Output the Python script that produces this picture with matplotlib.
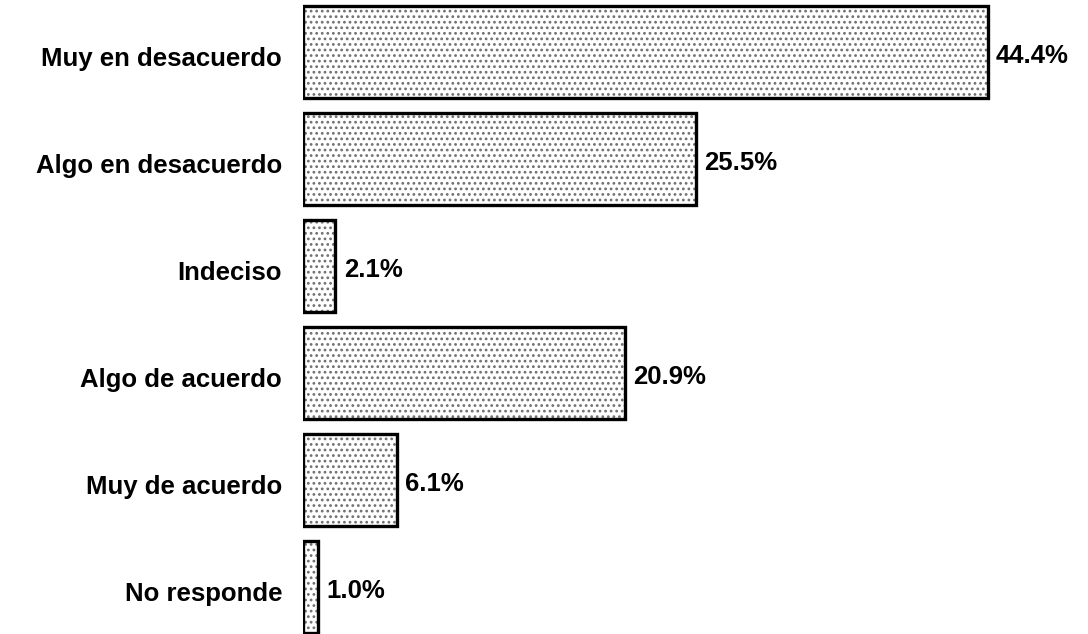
import matplotlib.pyplot as plt
from matplotlib.transforms import ScaledTranslation

categories = ["Muy en desacuerdo", "Algo en desacuerdo", "Indeciso",
              "Algo de acuerdo", "Muy de acuerdo", "No responde"]
values = [44.4, 25.5, 2.1, 20.9, 6.1, 1.0]
value_labels = ["44.4%", "25.5%", "2.1%", "20.9%", "6.1%", "1.0%"]

plt.rcParams["font.family"] = ["Liberation Sans", "DejaVu Sans"]
plt.rcParams["hatch.linewidth"] = 1.2

fig = plt.figure(figsize=(10.88, 6.34), dpi=100)
ax = fig.add_axes([303 / 1088, 0, 1 - 303 / 1088, 1])

ypos = list(range(len(categories)))

# stippled fill
ax.barh(ypos, values, height=0.86, color="white", edgecolor="#707070",
        hatch="...", linewidth=0)
# black outline
ax.barh(ypos, values, height=0.86, fill=False, edgecolor="black", linewidth=2.4)

for y, v, lab in zip(ypos, values, value_labels):
    ax.annotate(lab, (v, y), xytext=(6, -3), textcoords="offset points",
                va="center", ha="left", fontsize=18.5, fontweight="bold")

ax.set_xlim(0, 785 / 15.42)
ax.set_ylim(5 + 47 / 107, -52 / 107)
ax.set_yticks(ypos)
ax.set_yticklabels(categories, fontsize=18.5, fontweight="bold")
ax.tick_params(axis="y", length=0, pad=15)
shift = ScaledTranslation(0, -3 / 72, fig.dpi_scale_trans)
for t in ax.get_yticklabels():
    t.set_transform(t.get_transform() + shift)
ax.set_xticks([])
for s in ax.spines.values():
    s.set_visible(False)

fig.savefig("out.png", dpi=100)
